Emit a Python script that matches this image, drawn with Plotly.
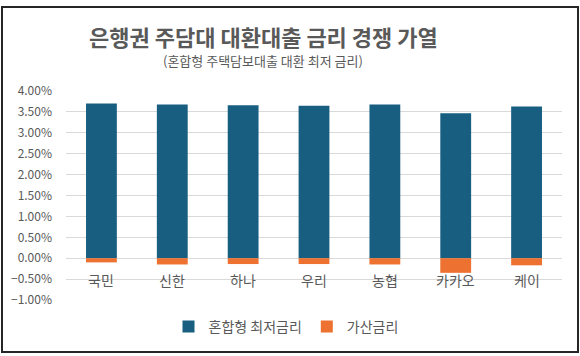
import plotly.graph_objects as go

banks = ['국민', '신한', '하나', '우리', '농협', '카카오', '케이']
lowest_rate = [3.70, 3.68, 3.66, 3.65, 3.68, 3.47, 3.63]
spread_rate = [-0.10, -0.15, -0.14, -0.14, -0.15, -0.35, -0.17]
series_names = ['혼합형 최저금리', '가산금리']
title_text = '은행권 주담대 대환대출 금리 경쟁 가열'
subtitle_text = '(혼합형 주택담보대출 대환 최저 금리)'

W, H = 580, 356
L, R, T, B = 66, 18, 91, 56
pw, ph = W - L - R, H - T - B

def px_x(p):
    return (p - L) / pw

def px_y(p):
    return (H - B - p) / ph

FONT = 'Noto Sans CJK KR'
GRAY = '#595959'

fig = go.Figure()
fig.add_trace(go.Bar(x=banks, y=[v / 100 for v in lowest_rate], name=series_names[0],
                     marker=dict(color='#175E80', line=dict(width=0))))
fig.add_trace(go.Bar(x=banks, y=[v / 100 for v in spread_rate], name=series_names[1],
                     marker=dict(color='#ED7130', line=dict(width=0))))

for b in banks:
    fig.add_annotation(x=b, y=0, xref='x', yref='y', text=b, showarrow=False,
                       yshift=-22, font=dict(family=FONT, size=14, color=GRAY))

fig.add_annotation(x=px_x(263), y=px_y(36), xref='paper', yref='paper', text=title_text,
                   showarrow=False, xanchor='center', yanchor='middle',
                   font=dict(family=FONT, size=22, color=GRAY, weight='bold'))
fig.add_annotation(x=px_x(263), y=px_y(61), xref='paper', yref='paper', text=subtitle_text,
                   showarrow=False, xanchor='center', yanchor='middle',
                   font=dict(family=FONT, size=13, color=GRAY))

fig.add_shape(type='rect', xref='paper', yref='paper',
              x0=px_x(2), x1=px_x(578), y0=px_y(352), y1=px_y(7),
              line=dict(color='#262626', width=2), layer='above')

fig.update_layout(
    width=W, height=H,
    margin=dict(l=L, r=R, t=T, b=B, autoexpand=False),
    barmode='relative', bargap=0.565,
    plot_bgcolor='white', paper_bgcolor='white',
    font=dict(family=FONT, color=GRAY),
    showlegend=True,
    legend=dict(orientation='h', x=px_x(286), xanchor='center', y=px_y(327), yanchor='middle',
                font=dict(family=FONT, size=14, color=GRAY), traceorder='normal',
                itemwidth=30),
    xaxis=dict(showticklabels=False, showgrid=False, zeroline=False, showline=False,
               ticks='', fixedrange=True),
    yaxis=dict(range=[-0.01, 0.04], dtick=0.005, tickformat='.2%',
               showgrid=True, gridcolor='#D9D9D9', gridwidth=1,
               zeroline=True, zerolinecolor='#D9D9D9', zerolinewidth=1,
               tickfont=dict(family=FONT, size=12, color=GRAY), ticks='', ticklen=0,
               ticklabelstandoff=13, showline=False),
)

fig.write_html('out.html', config={'displayModeBar': False},
               post_script="document.body.style.margin='0';document.body.style.overflow='hidden';")
